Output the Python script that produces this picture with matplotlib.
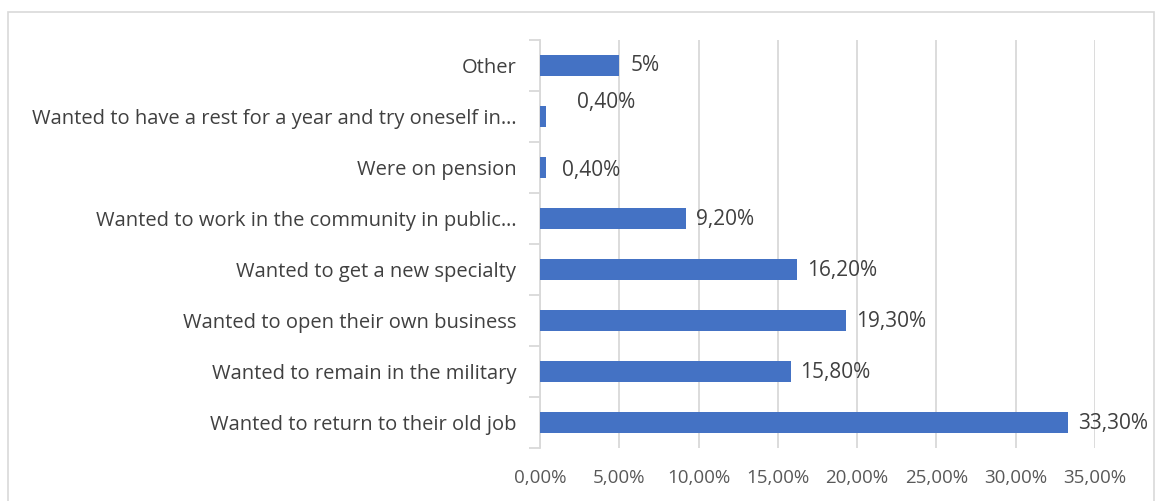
import matplotlib.pyplot as plt
from matplotlib.patches import Rectangle
from matplotlib.ticker import FuncFormatter, MultipleLocator

# Reasons given, bottom to top
reasons = [
    'Wanted to return to their old job',
    'Wanted to remain in the military',
    'Wanted to open their own business',
    'Wanted to get a new specialty',
    'Wanted to work in the community in public\u2026',
    'Were on pension',
    'Wanted to have a rest for a year and try oneself in\u2026',
    'Other',
]
shares = [33.3, 15.8, 19.3, 16.2, 9.2, 0.4, 0.4, 5.0]
share_labels = ['33,30%', '15,80%', '19,30%', '16,20%', '9,20%', '0,40%', '0,40%', '5%']

# label nudges in points (x, y)
label_offsets = [(7, -1), (7, -1), (7, -1), (7, -1), (7, -1), (11, -2), (22, 10), (8, 0)]

plt.rcParams['font.family'] = ['Open Sans', 'DejaVu Sans']
text_color = '#404040'
grid_color = '#d9d9d9'

fig = plt.figure(figsize=(11.58, 5.01), dpi=100)
fig.patches.append(Rectangle((8 / 1158, -0.01), 1146 / 1158, 1 - 12 / 501 + 0.01,
                             transform=fig.transFigure, fill=False,
                             edgecolor='#d9d9d9', linewidth=1.2))

ax = fig.add_axes([540 / 1158, (501 - 448) / 501, 555 / 1158, 408 / 501])
y = range(len(reasons))
bars = ax.barh(y, shares, height=0.43, color='#4472C4', zorder=3)

for bar, lab, (dx, dy) in zip(bars, share_labels, label_offsets):
    ax.annotate(lab, (bar.get_width(), bar.get_y() + bar.get_height() / 2),
                xytext=(dx, dy), textcoords='offset points',
                ha='left', va='center', fontsize=15, color=text_color)

ax.set_xlim(0, 35)
ax.set_ylim(-0.5, len(reasons) - 0.5)
ax.xaxis.set_major_locator(MultipleLocator(5))
ax.xaxis.set_major_formatter(FuncFormatter(lambda v, p: f'{v:.2f}%'.replace('.', ',')))
ax.grid(axis='x', color=grid_color, linewidth=1.3, zorder=0)

ax.set_yticks(list(y))
ax.set_yticklabels(reasons)
ax.set_yticks([i - 0.5 for i in range(len(reasons) + 1)], minor=True)
ax.tick_params(axis='y', which='major', length=0, pad=17, labelsize=14.5, labelcolor=text_color)
ax.tick_params(axis='y', which='minor', length=8, color=grid_color, width=1.3)
ax.tick_params(axis='x', length=0, pad=15, labelsize=13.5, labelcolor='#595959')

for side in ['top', 'right', 'bottom']:
    ax.spines[side].set_visible(False)
ax.spines['left'].set_color(grid_color)
ax.spines['left'].set_linewidth(1.3)

fig.savefig('out.png', dpi=100)
